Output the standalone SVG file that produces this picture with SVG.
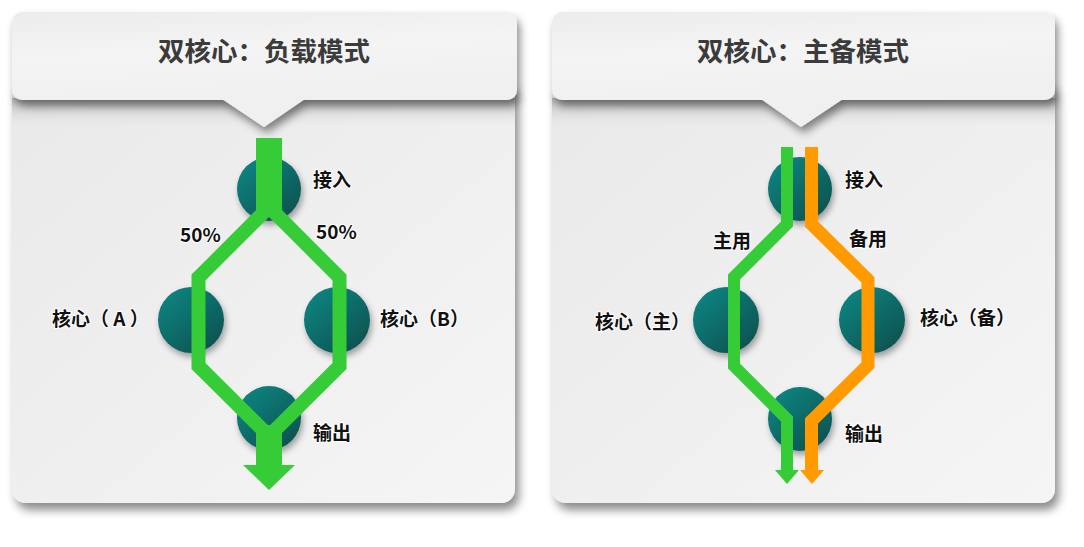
<svg xmlns="http://www.w3.org/2000/svg" width="1084" height="547" viewBox="0 0 1084 547">
<defs>
<linearGradient id="bodyG" x1="0" y1="0" x2="1" y2="1">
<stop offset="0" stop-color="#e9e9e9"/>
<stop offset="1" stop-color="#f5f5f5"/>
</linearGradient>
<linearGradient id="headG" x1="0" y1="0" x2="0.3" y2="1">
<stop offset="0" stop-color="#ececec"/>
<stop offset="0.5" stop-color="#f4f4f4"/>
<stop offset="1" stop-color="#f0f0f0"/>
</linearGradient>
<linearGradient id="topShade" x1="0" y1="0" x2="0" y2="1">
<stop offset="0" stop-color="#b0b0b0" stop-opacity="0.9"/>
<stop offset="1" stop-color="#e6e6e6" stop-opacity="0"/>
</linearGradient>
<linearGradient id="ballG" x1="0.2" y1="0.15" x2="0.85" y2="0.9">
<stop offset="0" stop-color="#117f7c"/>
<stop offset="1" stop-color="#095451"/>
</linearGradient>
<filter id="panelSh" x="-10%" y="-10%" width="125%" height="130%">
<feDropShadow dx="4" dy="7" stdDeviation="5" flood-color="#000" flood-opacity="0.45"/>
</filter>
<filter id="headSh" x="-10%" y="-20%" width="125%" height="160%">
<feDropShadow dx="3" dy="6" stdDeviation="4" flood-color="#000" flood-opacity="0.45"/>
</filter>
<filter id="ballSh" x="-40%" y="-40%" width="190%" height="190%">
<feDropShadow dx="2" dy="4" stdDeviation="3" flood-color="#000" flood-opacity="0.35"/>
</filter>
</defs>
<style>
.title{font-family:"Noto Sans CJK SC","Noto Sans",sans-serif;font-weight:bold;font-size:26.5px;fill:#3b3b3b;text-anchor:middle}
.lbl{font-family:"Noto Sans CJK SC","Noto Sans",sans-serif;font-weight:bold;font-size:19px;fill:#111;stroke:#fff;stroke-width:2;paint-order:stroke;stroke-linejoin:round}
.ball{fill:url(#ballG);filter:url(#ballSh)}
.g{fill:none;stroke:#35cc38;stroke-linejoin:miter}
.o{fill:none;stroke:#ff9a00;stroke-linejoin:miter}
</style>
<rect width="1084" height="547" fill="#ffffff"/>

<g id="panel-left">
<rect x="12" y="80" width="503" height="423" rx="14" fill="url(#bodyG)" filter="url(#panelSh)"/>
<rect x="12" y="98" width="503" height="30" fill="url(#topShade)"/>
<g filter="url(#headSh)">
<rect x="12" y="12" width="505" height="88" rx="10" fill="url(#headG)"/>
<polygon points="222,99 305,99 264,127" fill="#f0f0f0"/>
</g>
<text class="title" x="264" y="61">双核心：负载模式</text>
</g>

<g id="panel-right">
<rect x="552" y="80" width="503" height="423" rx="14" fill="url(#bodyG)" filter="url(#panelSh)"/>
<rect x="552" y="98" width="503" height="30" fill="url(#topShade)"/>
<g filter="url(#headSh)">
<rect x="552" y="12" width="503" height="88" rx="10" fill="url(#headG)"/>
<polygon points="761,99 843,99 801,127" fill="#f0f0f0"/>
</g>
<text class="title" x="803" y="61">双核心：主备模式</text>
</g>

<g id="node-l-in"><circle class="ball" cx="269" cy="189" r="32"/><text class="lbl" x="313" y="187">接入</text></g>
<g id="node-l-a"><circle class="ball" cx="191" cy="320" r="33"/><text class="lbl" x="52" y="326">核心（ A ）</text></g>
<g id="node-l-b"><circle class="ball" cx="337" cy="320" r="33"/><text class="lbl" x="380" y="326">核心（B）</text></g>
<g id="node-l-out"><circle class="ball" cx="269" cy="418" r="32"/><text class="lbl" x="313" y="440">输出</text></g>

<g id="node-r-in"><circle class="ball" cx="800" cy="189" r="32"/><text class="lbl" x="845" y="187">接入</text></g>
<g id="node-r-main"><circle class="ball" cx="726" cy="320" r="33"/><text class="lbl" x="595" y="329">核心（主）</text></g>
<g id="node-r-bak"><circle class="ball" cx="872" cy="320" r="33"/><text class="lbl" x="920" y="325">核心（备）</text></g>
<g id="node-r-out"><circle class="ball" cx="800" cy="419" r="32"/><text class="lbl" x="845" y="441">输出</text></g>

<g id="connectors">
<rect x="256" y="138" width="26" height="78" fill="#35cc38"/>
<polyline class="g" stroke-width="14" points="269,207 198.5,277.5 198.5,366 269,436"/>
<polyline class="g" stroke-width="14" points="269,207 339.5,277.5 339.5,366 269,436"/>
<rect x="256" y="425" width="26" height="41" fill="#35cc38"/>
<polygon points="243,465 295,465 269,490" fill="#35cc38"/>
<text class="lbl" x="180" y="242">50%</text>
<text class="lbl" x="316" y="239">50%</text>

<polyline class="g" stroke-width="12" points="787,147 787,224 734,277 734,366 787,419 787,471"/>
<polygon points="775,470 799,470 787,484" fill="#35cc38"/>
<polyline class="o" stroke-width="13" points="811.5,147 811.5,224 868,280 868,365 811.5,421 811.5,471"/>
<polygon points="800,470 824,470 812,484" fill="#ff9a00"/>
<text class="lbl" x="713" y="248">主用</text>
<text class="lbl" x="849" y="246">备用</text>
</g>
</svg>
